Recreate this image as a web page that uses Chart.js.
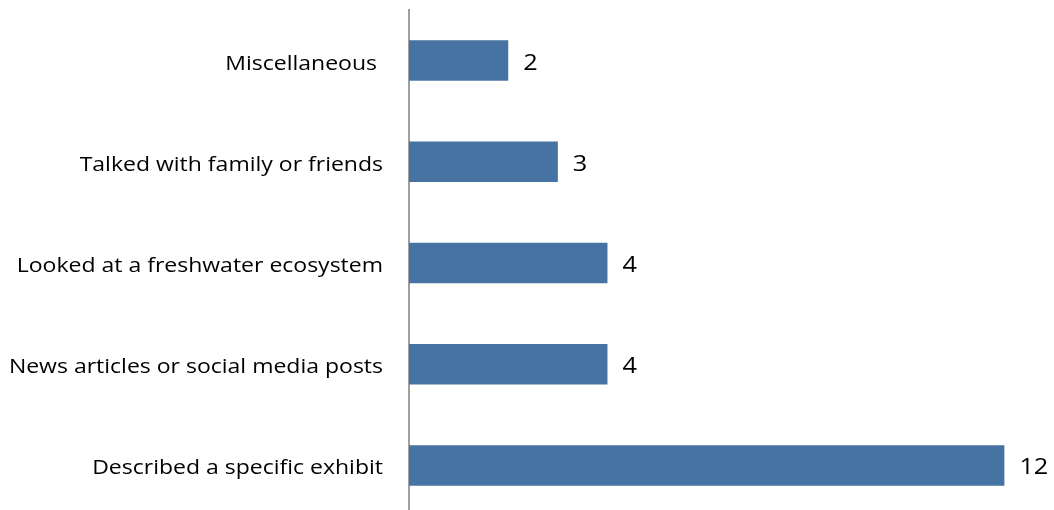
<!DOCTYPE html>
<html>
<head>
<meta charset="utf-8">
<script src="https://cdn.jsdelivr.net/npm/chart.js@4"></script>
<style>
  html, body { margin: 0; padding: 0; background: #fff; overflow: hidden; }
  #wrap { width: 1054px; height: 510px; overflow: hidden; }
</style>
</head>
<body>
<div id="wrap"><canvas id="myChart" width="1054" height="516"></canvas></div>
<script>
// CHART DATA
const categories = [
  'Miscellaneous ',
  'Talked with family or friends',
  'Looked at a freshwater ecosystem',
  'News articles or social media posts',
  'Described a specific exhibit'
];
const counts = [2, 3, 4, 4, 12];

const barColor = '#4673a1';
const fontFamily = '"Open Sans", Lato, sans-serif';
const stretchX = 1.15;   // text is set a little wide

// category names at the left of the axis, drawn at the scale's tick positions
const categoryLabels = {
  id: 'categoryLabels',
  afterDraw(chart) {
    const c = chart.ctx;
    const y = chart.scales.y;
    c.save();
    c.font = '20px ' + fontFamily;
    c.fillStyle = '#000';
    c.textAlign = 'right';
    c.textBaseline = 'alphabetic';
    y.ticks.forEach((t, i) => {
      c.save();
      c.translate(y.right - 26, y.getPixelForTick(i) + 9);
      c.scale(stretchX, 1);
      c.fillText(categories[i], 0, 0);
      c.restore();
    });
    c.restore();
  }
};

// value printed just right of each bar
const valueLabels = {
  id: 'valueLabels',
  afterDatasetsDraw(chart) {
    const c = chart.ctx;
    const meta = chart.getDatasetMeta(0);
    c.save();
    c.font = '22px ' + fontFamily;
    c.fillStyle = '#000';
    c.textAlign = 'left';
    c.textBaseline = 'alphabetic';
    meta.data.forEach((bar, i) => {
      c.save();
      c.translate(bar.x + 15, bar.y + 9);
      c.scale(stretchX, 1);
      c.fillText(String(counts[i]), 0, 0);
      c.restore();
    });
    c.restore();
  }
};

const ctx = document.getElementById('myChart');

new Chart(ctx, {
  type: 'bar',
  data: {
    labels: categories,
    datasets: [{
      data: counts,
      backgroundColor: barColor,
      borderWidth: 0,
      categoryPercentage: 0.8,
      barPercentage: 0.5
    }]
  },
  options: {
    indexAxis: 'y',
    responsive: false,
    animation: false,
    devicePixelRatio: 1,
    layout: { padding: { top: 10, right: 0, bottom: 0, left: 0 } },
    plugins: {
      legend: { display: false },
      tooltip: { enabled: false }
    },
    scales: {
      x: {
        display: false,
        min: 0,
        max: 13
      },
      y: {
        // fixed axis position, and no extra room above/below for the labels
        afterFit(scale) {
          scale.width = 409;
          scale.paddingTop = 0;
          scale.paddingBottom = 0;
        },
        grid: { display: false, drawTicks: false },
        border: { display: true, color: '#a0a0a0', width: 2 },
        ticks: { display: false }
      }
    }
  },
  plugins: [valueLabels, categoryLabels]
});
</script>
</body>
</html>
